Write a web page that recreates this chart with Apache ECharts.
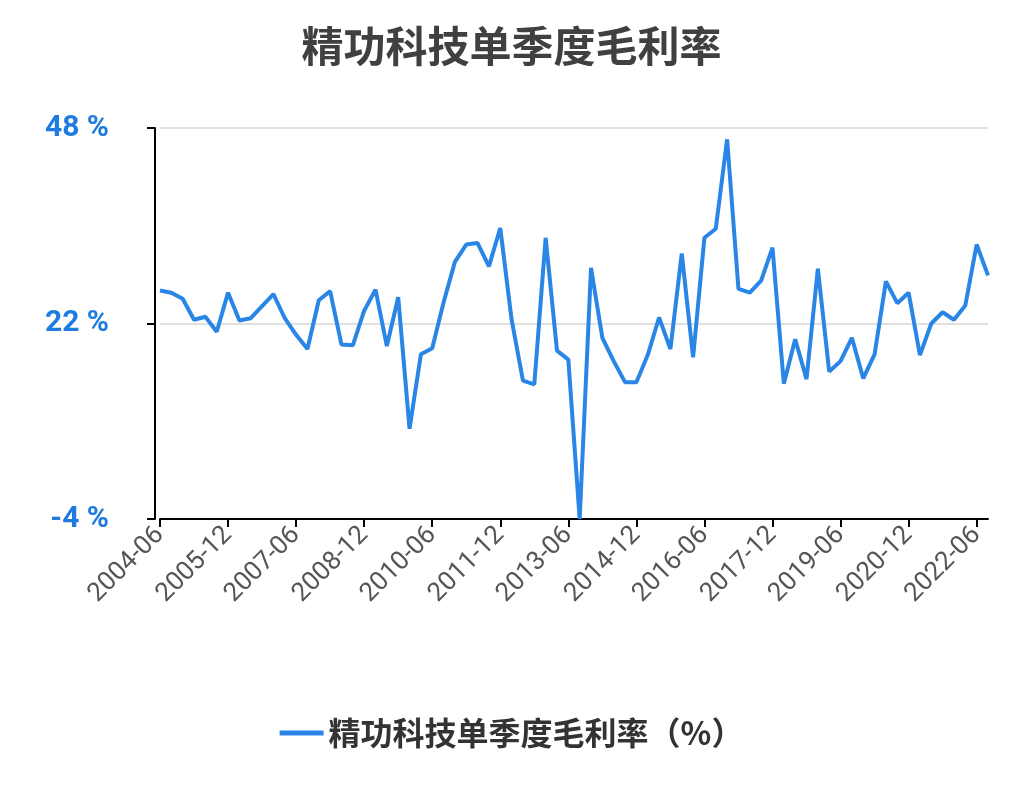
<!DOCTYPE html>
<html><head><meta charset="utf-8">
<script src="https://cdn.jsdelivr.net/npm/echarts@6/dist/echarts.min.js"></script>
<style>html,body{margin:0;padding:0;background:#fff}#c{width:1023px;height:810px}</style>
</head><body><div id="c"></div>
<script>
const startYear = 2004, startQuarterMonth = 6, pointCount = 74;
const categories = [];
for (let i = 0; i < pointCount; i++) {
  const m = startQuarterMonth + 3 * i;
  const y = startYear + Math.floor((m - 1) / 12);
  const mm = ((m - 1) % 12) + 1;
  categories.push(y + '-' + String(mm).padStart(2, '0'));
}
const grossMargin = [26.4,26.1,25.3,22.5,22.9,20.9,26.1,22.4,22.7,24.3,25.9,22.7,20.5,18.6,25.1,26.3,19.2,19.1,23.7,26.5,19.0,25.5,8.0,17.9,18.7,24.8,30.2,32.5,32.7,29.6,34.7,22.5,14.4,13.9,33.4,18.4,17.2,-4.0,29.4,20.1,17.0,14.2,14.2,17.8,22.8,18.6,31.3,17.5,33.4,34.6,46.5,26.6,26.1,27.7,32.1,14.0,19.9,14.6,29.3,15.6,17.0,20.1,14.7,17.9,27.6,24.7,26.1,17.8,22.0,23.5,22.5,24.4,32.5,28.4];
const yTicks = [-4, 22, 48];
const seriesName = '精功科技单季度毛利率（%）';
const chart = echarts.init(document.getElementById('c'));
chart.setOption({
  animation: false,
  title: { text: '精功科技单季度毛利率', left: 'center', top: 20,
    textStyle: { fontSize: 42, fontWeight: 'bold', color: '#404040', fontFamily: 'Noto Sans CJK SC' } },
  legend: { bottom: 56, left: 'center', itemWidth: 44, itemHeight: 5,
    textStyle: { fontSize: 32, fontWeight: 'bold', color: '#333', fontFamily: 'Noto Sans CJK SC' },
    icon: 'rect', data: [seriesName] },
  grid: { left: 160, right: 35, top: 128, bottom: 291 },
  xAxis: { type: 'category', data: categories, boundaryGap: false,
    axisLine: { onZero: false, lineStyle: { color: '#000', width: 2 } },
    axisTick: { interval: 5, length: 8, lineStyle: { color: '#000', width: 2 } },
    axisLabel: { interval: 5, rotate: 45, fontSize: 26, color: '#555', fontFamily: 'Roboto', margin: 12 } },
  yAxis: { type: 'value', min: yTicks[0], max: yTicks[2], interval: yTicks[1] - yTicks[0], offset: 5,
    axisLine: { show: true, lineStyle: { color: '#000', width: 2 } },
    axisTick: { show: true, length: 8, lineStyle: { color: '#000', width: 2 } },
    splitLine: { lineStyle: { color: '#e0e0e0', width: 2 } },
    axisLabel: { formatter: v => v + ' %', fontSize: 30, fontWeight: 'bold', color: '#1e7be0', fontFamily: 'Roboto', margin: 46 } },
  series: [{ name: seriesName, type: 'line', data: grossMargin, showSymbol: false,
    lineStyle: { color: '#2a86e6', width: 4 }, itemStyle: { color: '#2a86e6' } }]
});
</script></body></html>
